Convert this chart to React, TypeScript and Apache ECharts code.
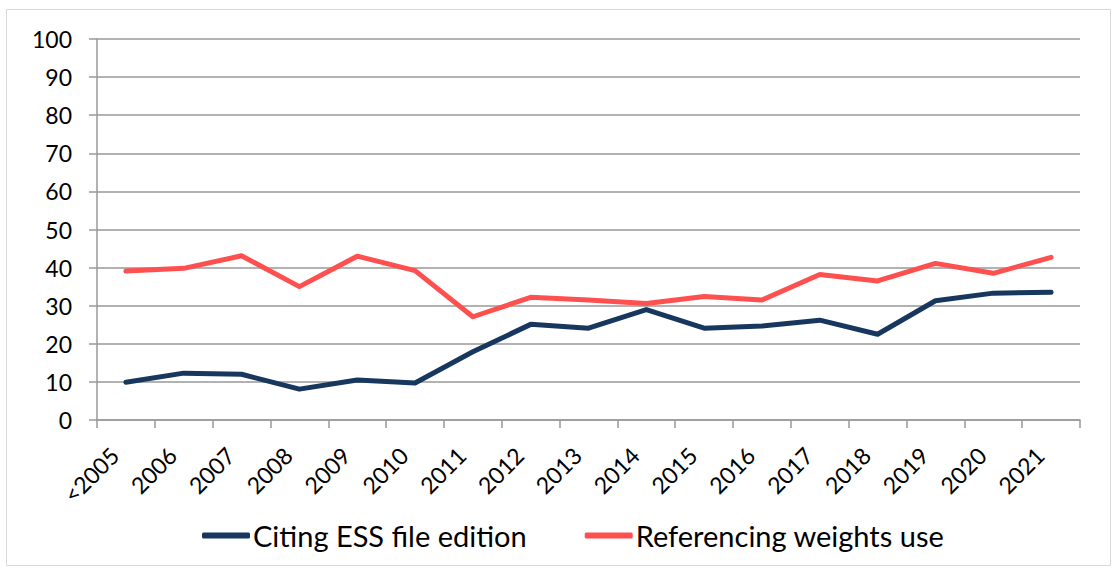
import React, { useEffect, useRef } from "react";
import * as echarts from "echarts";

const categories = ["<2005", "2006", "2007", "2008", "2009", "2010", "2011", "2012", "2013", "2014", "2015", "2016", "2017", "2018", "2019", "2020", "2021"];
const citingESS = [9.9, 12.3, 12.0, 8.1, 10.5, 9.7, 17.9, 25.1, 24.1, 29.0, 24.1, 24.7, 26.2, 22.5, 31.3, 33.3, 33.5];
const referencingWeights = [39.1, 39.8, 43.1, 35.0, 43.0, 39.2, 27.1, 32.2, 31.5, 30.6, 32.4, 31.5, 38.2, 36.5, 41.1, 38.5, 42.7];
const seriesNames = ["Citing ESS file edition", "Referencing weights use"];

const FONT = "Lato, 'Open Sans', sans-serif";

export default function App() {
  const ref = useRef<HTMLDivElement>(null);
  useEffect(() => {
    const chart = echarts.init(ref.current!, null, { renderer: "svg" });
    chart.setOption({
      animation: false,
      backgroundColor: "#fff",
      graphic: [
        {
          type: "rect",
          shape: { x: 6.5, y: 9.5, width: 1104, height: 556 },
          style: { fill: "none", stroke: "#d9d9d9", lineWidth: 1 },
          silent: true,
        },
      ],
      grid: { left: 97, right: 35, top: 39, bottom: 150 },
      legend: {
        top: 516,
        left: 197,
        itemWidth: 48,
        itemHeight: 6,
        itemGap: 58,
        icon: "roundRect",
        textStyle: { fontSize: 29, color: "#000", fontFamily: FONT, padding: [0, 0, 0, -2] },
        data: seriesNames,
      },
      xAxis: {
        type: "category",
        data: categories,
        boundaryGap: true,
        axisLine: { lineStyle: { color: "#999", width: 1.5 } },
        axisTick: { show: true, length: 8, lineStyle: { color: "#999", width: 1.5 } },
        axisLabel: {
          rotate: 45,
          fontSize: 23,
          color: "#000",
          fontFamily: FONT,
          margin: 20,
          interval: 0,
          padding: [0, 16, 0, 0],
        },
      },
      yAxis: {
        type: "value",
        min: 0,
        max: 100,
        interval: 10,
        axisLine: { show: true, lineStyle: { color: "#999", width: 1.5 } },
        axisTick: { show: true, length: 8, lineStyle: { color: "#999", width: 1.5 } },
        splitLine: { lineStyle: { color: "#999", width: 1.5 } },
        axisLabel: { fontSize: 23, color: "#000", fontFamily: FONT, margin: 25 },
      },
      series: [
        {
          name: seriesNames[0],
          type: "line",
          data: citingESS,
          symbol: "none",
          lineStyle: { color: "#17375E", width: 5, cap: "round", join: "round" },
          itemStyle: { color: "#17375E" },
        },
        {
          name: seriesNames[1],
          type: "line",
          data: referencingWeights,
          symbol: "none",
          lineStyle: { color: "#FF5050", width: 5, cap: "round", join: "round" },
          itemStyle: { color: "#FF5050" },
        },
      ],
    });
    return () => chart.dispose();
  }, []);
  return (
    <div
      ref={ref}
      style={{ position: "fixed", left: 0, top: 0, width: 1115, height: 570 }}
    />
  );
}
